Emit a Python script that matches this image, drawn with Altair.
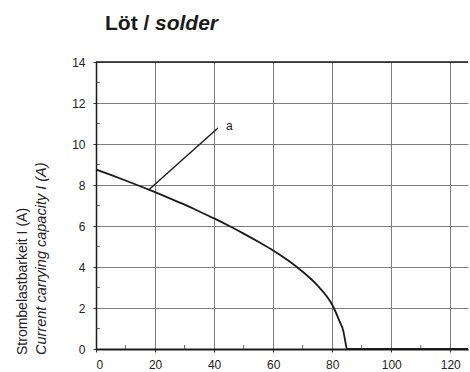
import altair as alt
import pandas as pd

# Current carrying capacity curve (x in the horizontal unit, y in A)
current_x = [0, 5, 10, 15, 20, 25, 30, 35, 40, 45, 50, 55, 60, 65, 70, 75, 80, 82.5, 83.8, 84.4, 85, 126]
current_y = [8.75, 8.49, 8.22, 7.94, 7.65, 7.35, 7.04, 6.71, 6.37, 6.01, 5.63, 5.23, 4.81, 4.33, 3.77, 3.10, 2.16, 1.35, 0.86, 0.40, 0.0, 0.0]

# Leader line to the curve label
leader_x = [17.9, 41.3]
leader_y = [7.77, 10.78]
label_x = [44.0]
label_y = [10.9]
label_text = ["a"]

x_ticks = [0, 20, 40, 60, 80, 100, 120]
y_ticks = [0, 2, 4, 6, 8, 10, 12, 14]
x_minor = [10, 30, 50, 70, 90, 110]
y_minor = [1, 3, 5, 7, 9, 11, 13]

title_main = "Löt /"
title_en = "solder"
ytitle_de = "Strombelastbarkeit I (A)"
ytitle_en = "Current carrying capacity I (A)"

W, H = 372, 287
FONT = "Liberation Sans, Arial, sans-serif"
INK = "#1a1a1a"

xs = alt.Scale(domain=[0, 126], nice=False, zero=False)
ys = alt.Scale(domain=[0, 14], nice=False)

x_axis = alt.Axis(
    values=x_ticks, title=None, grid=True, gridColor="#6e6e6e", gridWidth=0.9,
    domainColor=INK, domainWidth=1.8, tickColor="#333", tickSize=3,
    labelPadding=7, labelFont=FONT, labelFontSize=12, labelColor="#222",
)
y_axis = alt.Axis(
    values=y_ticks, title=None, grid=True, gridColor="#6e6e6e", gridWidth=0.9,
    domainColor=INK, domainWidth=1.5, tickColor="#333", tickSize=3,
    labelPadding=8, labelFont=FONT, labelFontSize=12, labelColor="#222",
)


def xq(field="x"):
    return alt.X(f"{field}:Q", scale=xs, axis=x_axis)


def yq(field="y"):
    return alt.Y(f"{field}:Q", scale=ys, axis=y_axis)


curve_df = pd.DataFrame({"x": current_x, "y": current_y})
curve = alt.Chart(curve_df).mark_line(color=INK, strokeWidth=1.8, interpolate="monotone").encode(
    x=xq(), y=yq()
)

leader = alt.Chart(pd.DataFrame({"x": leader_x, "y": leader_y})).mark_line(
    color=INK, strokeWidth=1.4
).encode(x=xq(), y=yq())

label = alt.Chart(pd.DataFrame({"x": label_x, "y": label_y, "t": label_text})).mark_text(
    font=FONT, fontSize=12, color=INK, align="left", baseline="middle"
).encode(x=xq(), y=yq(), text="t:N")

minor_x = alt.Chart(pd.DataFrame({"x": x_minor})).mark_tick(
    orient="vertical", size=4, thickness=1, color="#333", yOffset=-2
).encode(x=xq(), y=alt.value(H))

minor_y = alt.Chart(pd.DataFrame({"y": y_minor})).mark_tick(
    orient="horizontal", size=4, thickness=1, color="#333", xOffset=2
).encode(y=yq(), x=alt.value(0))

top_border = alt.Chart(pd.DataFrame({"k": [0]})).mark_rule(color=INK, strokeWidth=1.4).encode(
    x=alt.value(0), x2=alt.value(W), y=alt.value(0)
)

title_a = alt.Chart(pd.DataFrame({"t": [title_main]})).mark_text(
    font=FONT, fontSize=21, fontWeight="bold", color=INK, align="left", baseline="alphabetic"
).encode(text="t:N", x=alt.value(9), y=alt.value(-32))

title_b = alt.Chart(pd.DataFrame({"t": [title_en]})).mark_text(
    font=FONT, fontSize=21, fontWeight="bold", fontStyle="italic", color=INK,
    align="left", baseline="alphabetic"
).encode(text="t:N", x=alt.value(59), y=alt.value(-32))

ytitle_a = alt.Chart(pd.DataFrame({"t": [ytitle_de]})).mark_text(
    font=FONT, fontSize=14, color="#222", angle=270, align="left", baseline="alphabetic"
).encode(text="t:N", x=alt.value(-69), y=alt.value(293))

ytitle_b = alt.Chart(pd.DataFrame({"t": [ytitle_en]})).mark_text(
    font=FONT, fontSize=14.5, fontStyle="italic", color="#222", angle=270, align="left",
    baseline="alphabetic"
).encode(text="t:N", x=alt.value(-50), y=alt.value(293))

chart = alt.layer(
    curve, leader, label, minor_x, minor_y, top_border, title_a, title_b, ytitle_a, ytitle_b
).properties(
    width=W, height=H,
    autosize=alt.AutoSizeParams(type="none"),
    padding={"left": 96, "top": 62, "right": 2, "bottom": 23},
    background="white",
).configure_view(stroke=None)

chart.save("out.html", embed_options={"renderer": "svg", "actions": False})
